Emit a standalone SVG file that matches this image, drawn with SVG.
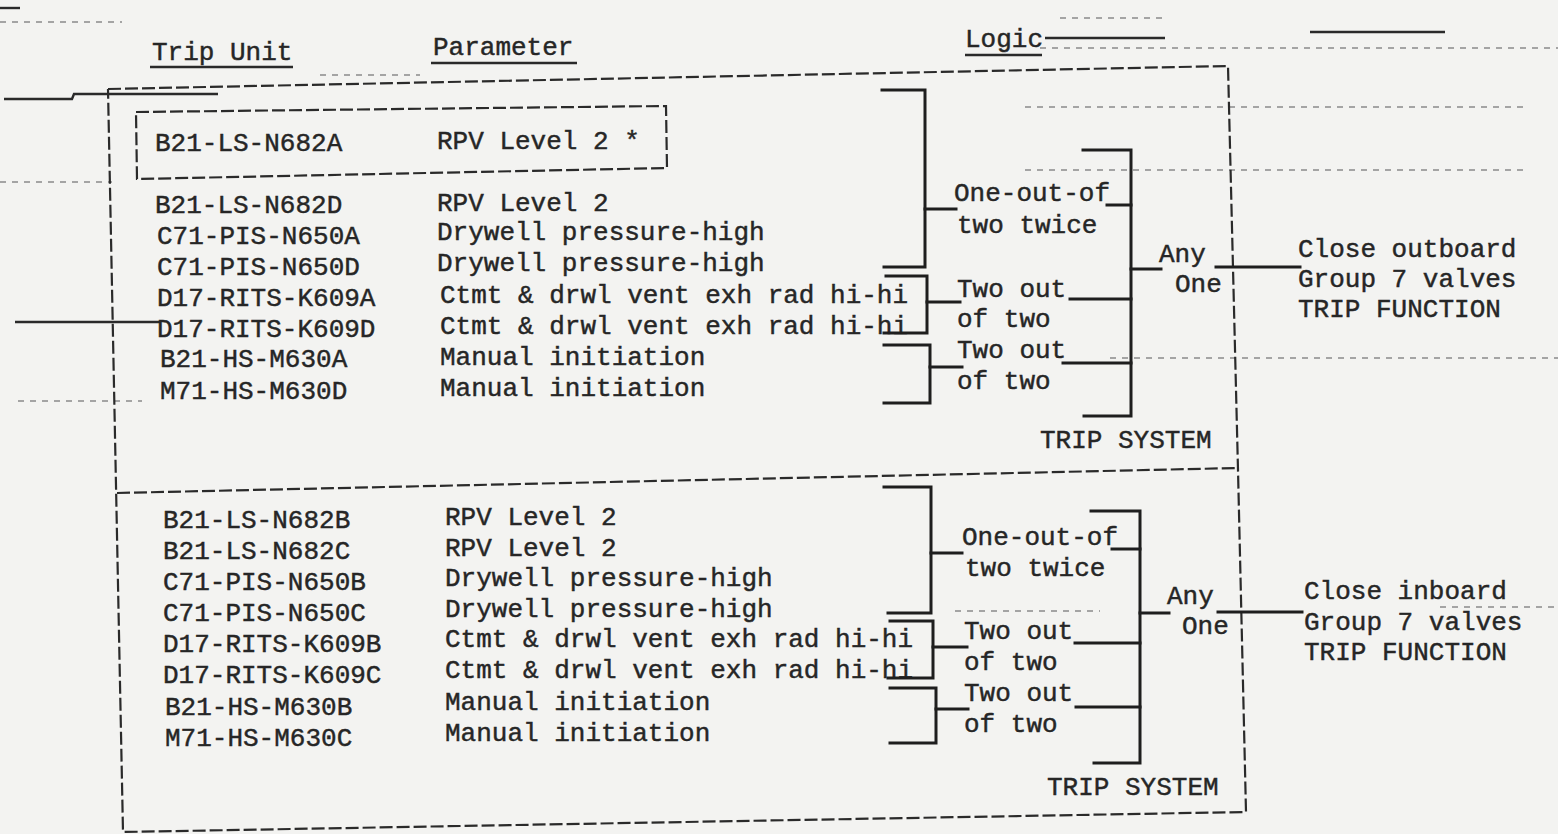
<svg xmlns="http://www.w3.org/2000/svg" width="1558" height="834" viewBox="0 0 1558 834">
<style>
text{font-family:"Liberation Mono","DejaVu Sans Mono",monospace;font-size:26px;fill:#262626;stroke:#262626;stroke-width:0.45}
.b{fill:none;stroke:#1e1e1e;stroke-width:3;stroke-linecap:square}
.box{fill:none;stroke:#2a2a2a;stroke-width:2.2;stroke-dasharray:13 4}
.ul{fill:none;stroke:#2a2a2a;stroke-width:2.4}
.bleed{fill:none;stroke:#8a8a8a;stroke-width:1.6;stroke-dasharray:6 6}
</style>
<rect width="1558" height="834" fill="#f3f3f1"/>

<g id="bleed-through">
<path class="ul" d="M0 8 H20" stroke-width="1.5"/>
<path class="bleed" d="M0 22 H122"/>
<path class="ul" d="M4 99 H72 L74 94 H218" stroke-width="1.6"/>
<path class="bleed" d="M320 75 H420"/>
<path class="bleed" d="M1060 18 H1165"/>
<path class="ul" d="M1045 38 H1165" stroke-width="1.6"/>
<path class="bleed" d="M1040 48 H1558"/>
<path class="bleed" d="M1025 107 H1528"/>
<path class="bleed" d="M1025 170 H1528"/>
<path class="bleed" d="M1110 358 H1558"/>
<path class="bleed" d="M955 611 H1100"/>
<path class="bleed" d="M1440 607 H1558"/>
<path class="bleed" d="M0 182 H112"/>
<path class="ul" d="M15 322 H160" stroke-width="1.6"/>
<path class="bleed" d="M18 401 H142"/>
<path class="ul" d="M1310 32 H1445" stroke-width="1.6"/>
</g>

<g id="headers">
<text x="152" y="60">Trip Unit</text>
<path class="ul" d="M150 67 H293"/>
<text x="433" y="55">Parameter</text>
<path class="ul" d="M431 63 H577"/>
<text x="965" y="47">Logic</text>
<path class="ul" d="M965 55 H1042"/>
</g>

<g id="trip-system-boxes">
<path class="box" d="M108 89 L1228 66 L1238 470 L1246 812 L123 832 L108 89"/>
<path class="box" d="M117 493 L1238 468"/>
<path class="box" d="M136 112 L666 106 L667 168 L137 179 Z"/>
</g>

<g id="trip-units-a">
<text x="155" y="151">B21-LS-N682A</text>
<text x="155" y="213">B21-LS-N682D</text>
<text x="157" y="244">C71-PIS-N650A</text>
<text x="157" y="275">C71-PIS-N650D</text>
<text x="157" y="306">D17-RITS-K609A</text>
<text x="157" y="337">D17-RITS-K609D</text>
<text x="160" y="367">B21-HS-M630A</text>
<text x="160" y="399">M71-HS-M630D</text>
</g>
<g id="parameters-a">
<text x="437" y="149">RPV Level 2 *</text>
<text x="437" y="211">RPV Level 2</text>
<text x="437" y="240">Drywell pressure-high</text>
<text x="437" y="271">Drywell pressure-high</text>
<text x="440" y="303">Ctmt &amp; drwl vent exh rad hi-hi</text>
<text x="440" y="334">Ctmt &amp; drwl vent exh rad hi-hi</text>
<text x="440" y="365">Manual initiation</text>
<text x="440" y="396">Manual initiation</text>
</g>
<g id="logic-a">
<text x="954" y="201">One-out-of</text>
<text x="957" y="233">two twice</text>
<text x="957" y="297">Two out</text>
<text x="957" y="327">of two</text>
<text x="957" y="358">Two out</text>
<text x="957" y="389">of two</text>
<text x="1159" y="262">Any</text>
<text x="1175" y="292">One</text>
<text x="1040" y="448">TRIP SYSTEM</text>
</g>
<g id="function-a">
<text x="1298" y="257">Close outboard</text>
<text x="1298" y="287">Group 7 valves</text>
<text x="1298" y="317">TRIP FUNCTION</text>
</g>

<g id="trip-units-b">
<text x="163" y="528">B21-LS-N682B</text>
<text x="163" y="559">B21-LS-N682C</text>
<text x="163" y="590">C71-PIS-N650B</text>
<text x="163" y="621">C71-PIS-N650C</text>
<text x="163" y="652">D17-RITS-K609B</text>
<text x="163" y="683">D17-RITS-K609C</text>
<text x="165" y="715">B21-HS-M630B</text>
<text x="165" y="746">M71-HS-M630C</text>
</g>
<g id="parameters-b">
<text x="445" y="525">RPV Level 2</text>
<text x="445" y="556">RPV Level 2</text>
<text x="445" y="586">Drywell pressure-high</text>
<text x="445" y="617">Drywell pressure-high</text>
<text x="445" y="647">Ctmt &amp; drwl vent exh rad hi-hi</text>
<text x="445" y="678">Ctmt &amp; drwl vent exh rad hi-hi</text>
<text x="445" y="710">Manual initiation</text>
<text x="445" y="741">Manual initiation</text>
</g>
<g id="logic-b">
<text x="962" y="545">One-out-of</text>
<text x="965" y="576">two twice</text>
<text x="964" y="639">Two out</text>
<text x="964" y="670">of two</text>
<text x="964" y="701">Two out</text>
<text x="964" y="732">of two</text>
<text x="1167" y="604">Any</text>
<text x="1182" y="634">One</text>
<text x="1047" y="795">TRIP SYSTEM</text>
</g>
<g id="function-b">
<text x="1304" y="599">Close inboard</text>
<text x="1304" y="630">Group 7 valves</text>
<text x="1304" y="660">TRIP FUNCTION</text>
</g>

<g id="connectors">
<path class="b" d="M882 90 H925 V267 H884"/>
<path class="b" d="M925 209 H956"/>
<path class="b" d="M886 276 H927 V333 H884"/>
<path class="b" d="M927 302 H960"/>
<path class="b" d="M884 345 H930 V403 H884"/>
<path class="b" d="M930 367 H962"/>
<path class="b" d="M1083 150 H1131 V416 H1084"/>
<path class="b" d="M1107 205 H1131"/>
<path class="b" d="M1070 299 H1131"/>
<path class="b" d="M1063 363 H1131"/>
<path class="b" d="M1131 269 H1161"/>
<path class="b" d="M1216 267 H1300"/>

<path class="b" d="M884 487 H931 V613 H888"/>
<path class="b" d="M931 553 H962"/>
<path class="b" d="M890 621 H933 V678 H888"/>
<path class="b" d="M933 647 H967"/>
<path class="b" d="M890 688 H936 V743 H890"/>
<path class="b" d="M936 709 H968"/>
<path class="b" d="M1091 511 H1140 V763 H1094"/>
<path class="b" d="M1112 549 H1140"/>
<path class="b" d="M1075 643 H1140"/>
<path class="b" d="M1076 707 H1140"/>
<path class="b" d="M1140 613 H1169"/>
<path class="b" d="M1218 612 H1302"/>
</g>
</svg>
